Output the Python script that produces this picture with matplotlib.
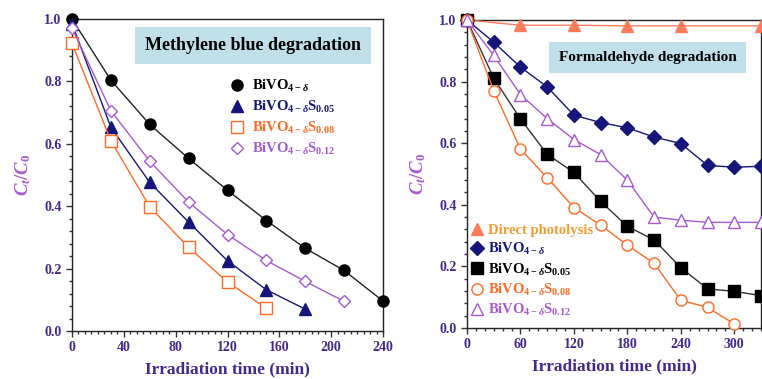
import numpy as np
import matplotlib
matplotlib.use("Agg")
import matplotlib.pyplot as plt
from matplotlib.lines import Line2D
from matplotlib.ticker import MultipleLocator

plt.rcParams['font.family'] = ['Liberation Serif', 'DejaVu Serif']
plt.rcParams['font.weight'] = 'bold'
plt.rcParams['axes.labelweight'] = 'bold'
plt.rcParams['mathtext.fontset'] = 'custom'
plt.rcParams['mathtext.rm'] = 'Liberation Serif:bold'
plt.rcParams['mathtext.bf'] = 'Liberation Serif:bold'
plt.rcParams['mathtext.it'] = 'Liberation Serif:italic:bold'

# 颜色
TICK_C = '#45288f'
NAVY = '#15157a'
ORANGE = '#ff6a25'
VIOLET = '#a55ad2'
SALMON = '#ff7b5c'
BOX_C = '#bfe0ea'

# ---- 亚甲基蓝降解 (左图) ----
mb_t_a = [0, 30, 60, 90, 120, 150, 180, 210, 240]
mb_bivo = [1.0, 0.804, 0.662, 0.553, 0.451, 0.354, 0.265, 0.194, 0.096]
mb_t_b = [0, 30, 60, 90, 120, 150, 180]
mb_s005 = [0.985, 0.653, 0.476, 0.349, 0.225, 0.132, 0.070]
mb_t_c = [0, 30, 60, 90, 120, 150]
mb_s008 = [0.922, 0.610, 0.398, 0.268, 0.157, 0.073]
mb_t_d = [0, 30, 60, 90, 120, 150, 180, 210]
mb_s012 = [0.971, 0.706, 0.544, 0.413, 0.309, 0.226, 0.159, 0.095]

# ---- 甲醛降解 (右图) ----
fa_t_photo = [0, 60, 120, 180, 240, 330]
fa_photo = [1.0, 0.983, 0.983, 0.981, 0.981, 0.981]
fa_t = [0, 30, 60, 90, 120, 150, 180, 210, 240, 270, 300, 330]
fa_bivo = [1.0, 0.928, 0.847, 0.783, 0.691, 0.667, 0.650, 0.620, 0.599, 0.528, 0.522, 0.525]
fa_s005 = [1.0, 0.811, 0.679, 0.564, 0.505, 0.411, 0.330, 0.286, 0.196, 0.127, 0.119, 0.105]
fa_t_c = [0, 30, 60, 90, 120, 150, 180, 210, 240, 270, 300]
fa_s008 = [1.0, 0.771, 0.581, 0.488, 0.391, 0.334, 0.269, 0.210, 0.090, 0.067, 0.013]
fa_s012 = [1.0, 0.885, 0.758, 0.680, 0.612, 0.563, 0.480, 0.360, 0.350, 0.343, 0.343, 0.343]

lbl_bivo = r'BiVO$_{4-\delta}$'
lbl_005 = r'BiVO$_{4-\delta}$S$_{0.05}$'
lbl_008 = r'BiVO$_{4-\delta}$S$_{0.08}$'
lbl_012 = r'BiVO$_{4-\delta}$S$_{0.12}$'

fig = plt.figure(figsize=(7.62, 3.79), dpi=100)
ax1 = fig.add_axes([72 / 762, 48 / 379, 311 / 762, 312 / 379])
ax2 = fig.add_axes([467 / 762, 51 / 379, 294 / 762, 308 / 379])


def style_axis(ax, xmax, xmaj, xmin):
    ax.set_ylim(0, 1.0)
    ax.set_xlim(0, xmax)
    ax.xaxis.set_major_locator(MultipleLocator(xmaj))
    ax.xaxis.set_minor_locator(MultipleLocator(xmin))
    ax.yaxis.set_major_locator(MultipleLocator(0.2))
    ax.yaxis.set_minor_locator(MultipleLocator(0.04))
    ax.yaxis.set_major_formatter(matplotlib.ticker.FormatStrFormatter('%.1f'))
    ax.tick_params(which='both', direction='out', colors='#333333', labelcolor=TICK_C,
                   labelsize=10, width=1)
    ax.tick_params(which='major', length=4)
    ax.tick_params(which='minor', length=2.5)
    for s in ax.spines.values():
        s.set_linewidth(1.0)
        s.set_color('#222222')
    ax.set_xlabel('Irradiation time (min)', fontsize=12.5, color=TICK_C, labelpad=5)
    ax.set_ylabel(r'$C_t/C_0$', fontsize=13.5, color=VIOLET, labelpad=8)


# 左图
kw = dict(lw=1.0, clip_on=False, zorder=3)
ax1.plot(mb_t_a, mb_bivo, color='#222222', marker='o', ms=8, mfc='black', mec='black', **kw)
ax1.plot(mb_t_b, mb_s005, color=NAVY, marker='^', ms=8, mfc=NAVY, mec=NAVY, **kw)
ax1.plot(mb_t_c, mb_s008, color=ORANGE, marker='s', ms=8, mfc='white', mec=ORANGE, mew=1, **kw)
ax1.plot(mb_t_d, mb_s012, color=VIOLET, marker='D', ms=6, mfc='white', mec=VIOLET, mew=1, **kw)
style_axis(ax1, 240, 40, 5)

ax1.text(0.582, 0.915, 'Methylene blue degradation', transform=ax1.transAxes,
         ha='center', va='center', fontsize=13, color='black',
         bbox=dict(boxstyle='square,pad=0.55', fc=BOX_C, ec='none'))

h1 = [Line2D([], [], ls='none', marker='o', ms=8, mfc='black', mec='black'),
      Line2D([], [], ls='none', marker='^', ms=8, mfc=NAVY, mec=NAVY),
      Line2D([], [], ls='none', marker='s', ms=8, mfc='white', mec=ORANGE),
      Line2D([], [], ls='none', marker='D', ms=6, mfc='white', mec=VIOLET)]
leg1 = ax1.legend(h1, [lbl_bivo, lbl_005, lbl_008, lbl_012], loc='upper left',
                  bbox_to_anchor=(0.465, 0.853), frameon=False, fontsize=10.5,
                  handlelength=1.0, handletextpad=0.5, labelspacing=0.34,
                  labelcolor=['black', NAVY, ORANGE, VIOLET])

# 右图
ax2.plot(fa_t_photo, fa_photo, color=SALMON, marker='^', ms=8, mfc=SALMON, mec=SALMON, **kw)
ax2.plot(fa_t, fa_bivo, color=NAVY, marker='D', ms=7, mfc=NAVY, mec=NAVY, **kw)
ax2.plot(fa_t, fa_s005, color='#333333', marker='s', ms=8, mfc='black', mec='black', **kw)
ax2.plot(fa_t_c, fa_s008, color=ORANGE, marker='o', ms=8, mfc='white', mec=ORANGE, mew=1, **kw)
ax2.plot(fa_t, fa_s012, color=VIOLET, marker='^', ms=8, mfc='white', mec=VIOLET, mew=1, **kw)
style_axis(ax2, 330, 60, 10)

ax2.text(0.614, 0.878, 'Formaldehyde degradation', transform=ax2.transAxes,
         ha='center', va='center', fontsize=11, color='black',
         bbox=dict(boxstyle='square,pad=0.6', fc=BOX_C, ec='none'))

h2 = [Line2D([], [], ls='none', marker='^', ms=8, mfc=SALMON, mec=SALMON),
      Line2D([], [], ls='none', marker='D', ms=7, mfc=NAVY, mec=NAVY),
      Line2D([], [], ls='none', marker='s', ms=8, mfc='black', mec='black'),
      Line2D([], [], ls='none', marker='o', ms=8, mfc='white', mec=ORANGE),
      Line2D([], [], ls='none', marker='^', ms=8, mfc='white', mec=VIOLET)]
leg2 = ax2.legend(h2, ['Direct photolysis', lbl_bivo, lbl_005, lbl_008, lbl_012],
                  loc='lower left', bbox_to_anchor=(-0.03, -0.01), frameon=False,
                  fontsize=10.5, handlelength=0.8, handletextpad=0.35, labelspacing=0.28,
                  labelcolor=['#f39a30', NAVY, 'black', ORANGE, VIOLET])

fig.savefig('out.png', dpi=100)
